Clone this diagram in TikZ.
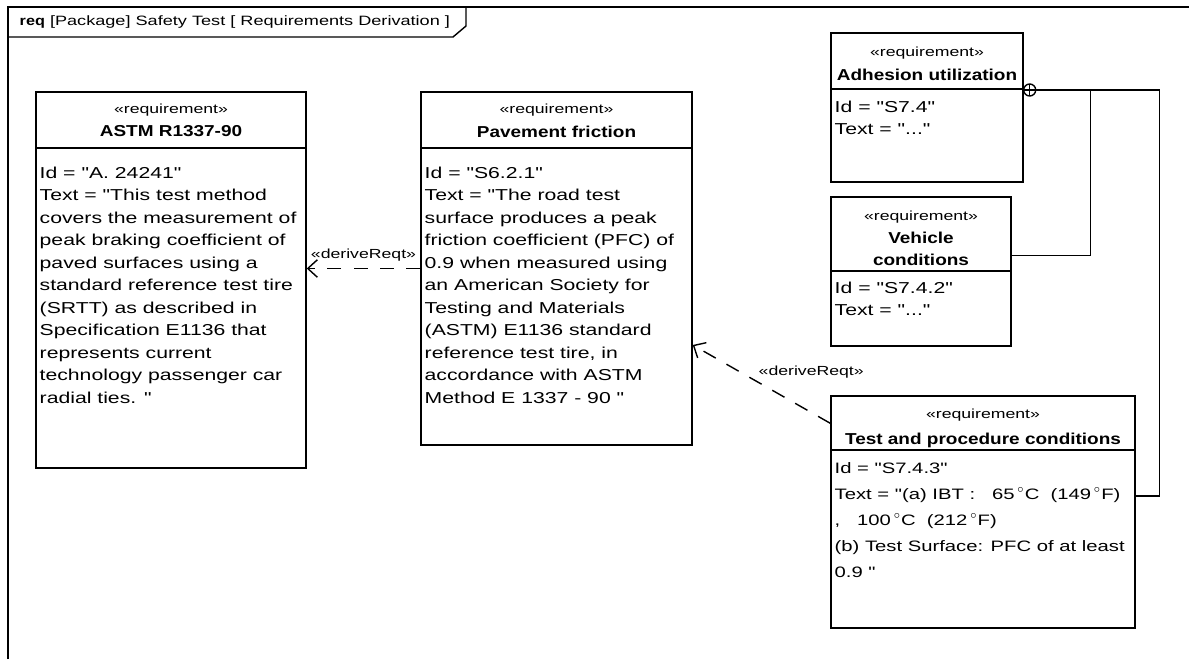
\documentclass[tikz,border=0pt]{standalone}
\usepackage{fontspec}
\setmainfont{Liberation Sans}[Ligatures=TeXOff, FakeStretch=1.34, BoldFeatures={FakeStretch=1.2}]
\usetikzlibrary{arrows.meta, positioning, calc}
\definecolor{cink}{HTML}{000000}
\tikzset{
  every picture/.style={font=\fontsize{9}{12.8}\selectfont, line width=0.8pt, draw=cink},
  box/.style 2 args={draw=cink, inner sep=0pt, minimum width=#1*0.02cm, minimum height=#2*0.02cm},
  stereo/.style={font=\fontsize{7.5}{9}\selectfont, inner sep=0pt, anchor=north},
  title/.style={font=\fontsize{9}{12.5}\selectfont\bfseries, inner sep=0pt, anchor=north, align=center},
  body/.style={font=\fontsize{9}{12.8}\selectfont, inner sep=0pt, anchor=north west, align=left},
  derive/.style={dash pattern=on 8pt off 7pt, -{Straight Barb[length=5.5pt, width=10pt]}},
  lbl/.style={font=\fontsize{7.5}{9}\selectfont, inner sep=1pt},
  own/.style={circle, draw=cink, inner sep=0pt, minimum size=12*0.02cm,
    path picture={\draw (path picture bounding box.north) -- (path picture bounding box.south)
                        (path picture bounding box.west) -- (path picture bounding box.east);}},
}
\begin{document}
\begin{tikzpicture}[x=0.02cm, y=-0.02cm]
  \useasboundingbox (0,0) rectangle (1189,659);
  % diagram frame
  \draw (8,659) -- (8,7) -- (1189,7);
  \draw (8,37) -- (453,37) -- (466,26) -- (466,7);
  \node[anchor=west, inner sep=0pt, font=\fontsize{7.7}{10}\selectfont] (frame) at (19,22)
    {\textbf{req} [Package] Safety Test [ Requirements Derivation ]};
  % left column
  \node[box={270}{376}] (astm) at (171,280) {};
  \draw (astm.west |- 0,148) -- (astm.east |- 0,148);
  \node[stereo] (astms) at (171,103) {«requirement»};
  \node[title] (astmt) at (171,125) {ASTM R1337-90};
  \node[body] (astmb) at (39,166) {Id = "A. 24241"\\Text = "This test method\\covers the measurement of\\peak braking coefficient of\\paved surfaces using a\\standard reference test tire\\(SRTT) as described in\\Specification E1136 that\\represents current\\technology passenger car\\radial ties. "};
  % middle column
  \node[box={271}{353}] (pav) at (556.5,268.5) {};
  \draw (pav.west |- 0,148) -- (pav.east |- 0,148);
  \node[stereo] (pavs) at (556.5,103) {«requirement»};
  \node[title] (pavt) at (556.5,125) {Pavement friction};
  \node[body] (pavb) at (424,166) {Id = "S6.2.1"\\Text = "The road test\\surface produces a peak\\friction coefficient (PFC) of\\0.9 when measured using\\an American Society for\\Testing and Materials\\(ASTM) E1136 standard\\reference test tire, in\\accordance with ASTM\\Method E 1337 - 90 "};
  % right column
  \node[box={192}{149}] (adh) at (927,107.5) {};
  \draw (adh.west |- 0,89) -- (adh.east |- 0,89);
  \node[stereo] (adhs) at (927,46) {«requirement»};
  \node[title] (adht) at (927,68.5) {Adhesion utilization};
  \node[body] (adhb) at (834,100) {Id = "S7.4"\\Text = "..."};
  \node[box={180}{149}] (veh) at (921,271.5) {};
  \draw (veh.west |- 0,271) -- (veh.east |- 0,271);
  \node[stereo] (vehs) at (921,210) {«requirement»};
  \node[title] (veht) at (921,231.5) {Vehicle\\conditions};
  \node[body] (vehb) at (834,281) {Id = "S7.4.2"\\Text = "..."};
  \node[box={304}{232}] (tpc) at (983,512) {};
  \draw (tpc.west |- 0,450) -- (tpc.east |- 0,450);
  \node[stereo] (tpcs) at (983,408) {«requirement»};
  \node[title] (tpct) at (983,432) {Test and procedure conditions};
  \node[body, font=\fontsize{8.6}{14.8}\selectfont] (tpcb) at (834,462)
    {Id = "S7.4.3"\\Text = "(a) IBT :~~~65\,$^{\circ}$C~~(149\,$^{\circ}$F)\\,~~~100\,$^{\circ}$C~~(212\,$^{\circ}$F)\\(b) Test Surface: PFC of at least\\0.9 "};
  % derivations
  \draw[derive] (pav.west) -- node[lbl, above=3pt] (d1) {«deriveReqt»} (pav.west -| astm.east);
  \draw[derive] ($(tpc.north west)+(0,28)$) -- node[lbl, anchor=south west, yshift=2pt, xshift=-3pt] (d2) {«deriveReqt»} ($(pav.east)+(0,76.5)$);
  % containment
  \node[own] (ownc) at ($(adh.east)+(6,-17.5)$) {};
  \coordinate (vk) at ($(veh.east)+(0,-16)$);
  \coordinate (tk) at ($(tpc.east)+(0,-16)$);
  \draw (ownc.east) -| ($(tk)+(24,0)$) -- (tk);
  \draw (vk) -| ($(ownc.east)+(54,0)$);
\end{tikzpicture}
\end{document}
